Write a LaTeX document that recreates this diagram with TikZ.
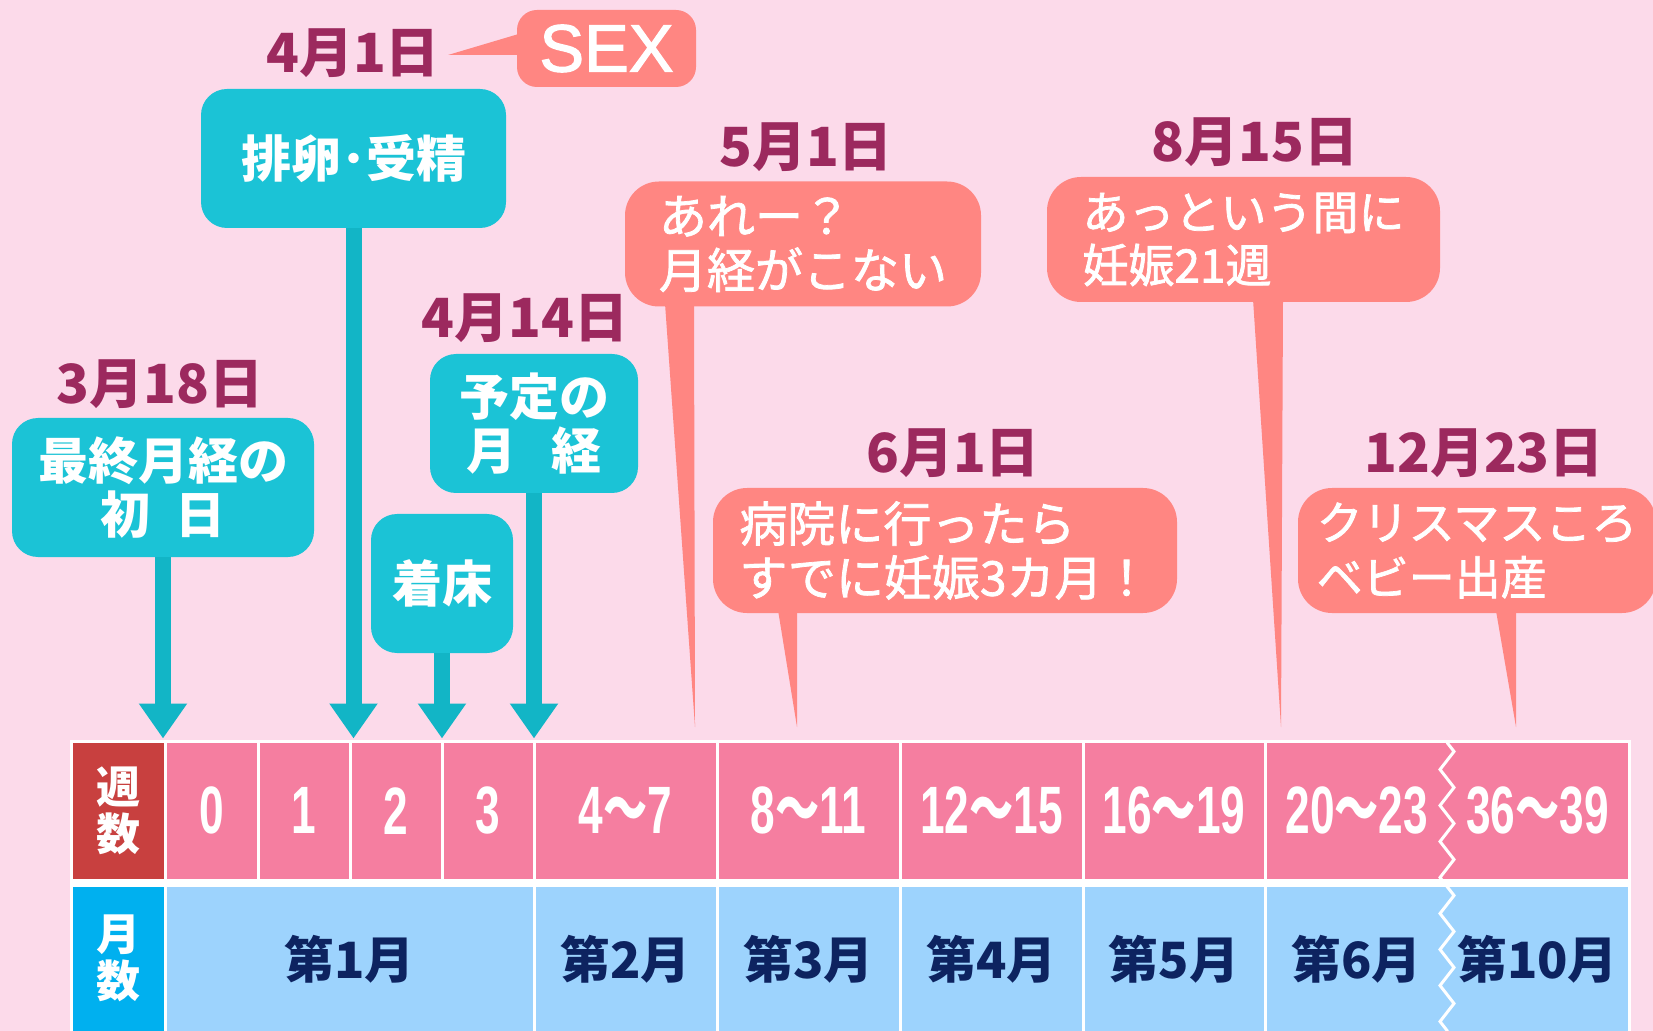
\documentclass[tikz,border=0pt]{standalone}
\usepackage{fontspec}
\setmainfont{Noto Sans CJK JP}
\newfontfamily\jpmid{Noto Sans CJK JP}[FakeBold=1.6]
\newfontfamily\numfont{Liberation Sans}[FakeStretch=0.66]
\newfontfamily\numjp{Noto Sans CJK JP}[FakeStretch=0.66]
\newfontfamily\sexfont{Liberation Sans}[FakeBold=1.8]
\usetikzlibrary{arrows.meta,decorations.pathmorphing,calc}

\definecolor{bgpink}{RGB}{252,218,234}
\definecolor{wkpink}{RGB}{245,126,160}
\definecolor{wkred}{RGB}{200,64,63}
\definecolor{mblue}{RGB}{157,211,253}
\definecolor{mlabel}{RGB}{0,176,239}
\definecolor{navy}{RGB}{13,35,96}
\definecolor{cyanbox}{RGB}{27,195,214}
\definecolor{cyanstem}{RGB}{18,181,198}
\definecolor{salmon}{RGB}{255,134,130}
\definecolor{datecol}{RGB}{156,41,94}

\newcommand\wkrange[2]{{\numfont\bfseries #1}{\numjp\bfseries ～}{\numfont\bfseries #2}}

\begin{document}
\begin{tikzpicture}[x=0.5pt,y=-0.5pt,
every node/.style={inner sep=0pt, outer sep=0pt},
date/.style={text=datecol, font=\fontsize{27}{30}\selectfont\bfseries},
cbox/.style={fill=cyanbox, rounded corners=13pt, text=white, align=center,
  minimum height=69.5pt, font=\fontsize{25}{27}\selectfont\bfseries},
sbox/.style={fill=salmon, rounded corners=17pt, text=white, align=left,
  minimum height=62.5pt, font=\fontsize{24}{27}\jpmid},
stem/.style={draw=cyanstem, line width=8pt, shorten >=2pt,
  -{Triangle[width=23pt,length=17.5pt]}},
wedge/.style={fill=salmon},
lcell/.style={minimum width=45.25pt, text=white, align=center,
  font=\fontsize{22}{23.5}\selectfont\bfseries},
wcell/.style={fill=wkpink, minimum height=68.25pt, text=white,
  font=\fontsize{33.5}{36}\numfont\bfseries},
mcell/.style={fill=mblue, minimum height=72.25pt, text=navy,
  font=\fontsize{25}{27}\selectfont\bfseries}]

\path[use as bounding box, clip] (0,0) rectangle (1653,1031);
\fill[bgpink] (0,0) rectangle (1653,1031);

% table
\fill[white] (70,739.5) rectangle (1631,1035);
\node[lcell, fill=wkred, minimum height=68.25pt] (wlab) at (118.25,810.75) {週\\数};
\node[wcell, minimum width=45pt] (w0) at (211.5,810.75) {0};
\node[wcell, minimum width=44.5pt] (w1) at (304,810.75) {1};
\node[wcell, minimum width=44.5pt] (w2) at (396,810.75) {2};
\node[wcell, minimum width=44.5pt] (w3) at (488,810.75) {3};
\node[wcell, minimum width=90pt] (w47) at (625.5,810.75) {\wkrange{4}{7}};
\node[wcell, minimum width=90pt] (w811) at (808.5,810.75) {\wkrange{8}{11}};
\node[wcell, minimum width=90pt] (w1215) at (991.5,810.75) {\wkrange{12}{15}};
\node[wcell, minimum width=89.5pt] (w1619) at (1174,810.75) {\wkrange{16}{19}};
\node[wcell, minimum width=90.25pt] (w2023) at (1356.75,810.75) {\wkrange{20}{23}};
\node[wcell, minimum width=90.5pt] (w3639) at (1537.5,810.75) {\wkrange{36}{39}};

\node[lcell, fill=mlabel, minimum height=72.25pt] (mlab) at (118.25,958.75) {月\\数};
\node[mcell, minimum width=183pt] (m1) at (349.5,958.75) {第1月\hspace{12pt}};
\node[mcell, minimum width=90pt] (m2) at (625.5,958.75) {第2月\hspace{6pt}};
\node[mcell, minimum width=90pt] (m3) at (808.5,958.75) {第3月\hspace{6pt}};
\node[mcell, minimum width=90pt] (m4) at (991.5,958.75) {第4月\hspace{6pt}};
\node[mcell, minimum width=89.5pt] (m5) at (1174,958.75) {第5月\hspace{6pt}};
\node[mcell, minimum width=90.25pt] (m6) at (1356.75,958.75) {第6月\hspace{6pt}};
\node[mcell, minimum width=90.5pt] (m10) at (1537.5,958.75) {第10月\hspace{3pt}};

\draw[white, line width=1.5pt, decorate,
  decoration={zigzag, segment length=18pt, amplitude=3.5pt}]
  (w2023.north east) -- (m6.south east);

% dates
\node[date] (d318) at (160,384) {3月18日};
\node[date] (d401) at (353,53) {4月1日};
\node[date] (d414) at (525,318) {4月14日};
\node[date] (d501) at (806,147) {5月1日};
\node[date] (d815) at (1255,142) {8月15日};
\node[date] (d601) at (953,453) {6月1日};
\node[date] (d1223) at (1484,453) {12月23日};

% cyan boxes
\node[cbox, minimum width=151pt] (bFirst) at (163,487.5) {最終月経の\\初\hspace{.5em}日};
\node[cbox, minimum width=152.5pt] (bOvul) at (353.5,158.5) {排卵･受精};
\node[cbox, minimum width=71pt] (bImpl) at (442,583.5) {着床};
\node[cbox, minimum width=104pt] (bDue) at (534,423.5) {予定の\\月\hspace{.7em}経};

\draw[stem] (bFirst.south) -- (bFirst.south |- w0.north);
\draw[stem] (bOvul.south) -- (bOvul.south |- w2.north);
\draw[stem] (bImpl.south) -- (bImpl.south |- w3.north);
\draw[stem] (bDue.south) -- (bDue.south |- w47.north);

% salmon boxes
\node[fill=salmon, rounded corners=10pt, minimum width=89.5pt, minimum height=38.5pt,
  text=white, font=\fontsize{33.5}{36}\sexfont] (sSex) at (606.5,48.5) {SEX};
\node[sbox, minimum width=178pt] (s1) at (803,244) {あれー？\\月経がこない\hspace{4pt}};
\node[sbox, minimum width=196.5pt, font=\fontsize{23}{26.5}\jpmid] (s2) at (1243.5,239.5) {あっという間に\\妊娠21週};
\node[sbox, minimum width=232pt] (s3) at (945,550.5) {病院に行ったら\\すでに妊娠3カ月！};
\node[sbox, minimum width=179pt, font=\fontsize{23}{27.5}\jpmid] (s4) at (1477,550.5) {クリスマスころ\\ベビー出産};

\coordinate (pSex) at (448,55);
\coordinate (p1) at (695,727);
\coordinate (p2) at (1281,727);
\coordinate (p3) at (797,727);
\coordinate (p4) at (1516,727);
\fill[wedge] (pSex) -- ($(sSex.west)+(5,-15.5)$) -- ($(sSex.west)+(5,6.5)$) -- cycle;
\fill[wedge] ($(s1.south west)+(40,-3)$) -- ($(s1.south west)+(69,-3)$) -- (p1) -- cycle;
\fill[wedge] ($(s2.south west)+(206,-3)$) -- ($(s2.south west)+(236,-3)$) -- (p2) -- cycle;
\fill[wedge] ($(s3.south west)+(65,-3)$) -- ($(s3.south west)+(84,-3)$) -- (p3) -- cycle;
\fill[wedge] ($(s4.south west)+(197,-8)$) -- ($(s4.south west)+(218,-8)$) -- (p4) -- cycle;
\end{tikzpicture}
\end{document}
